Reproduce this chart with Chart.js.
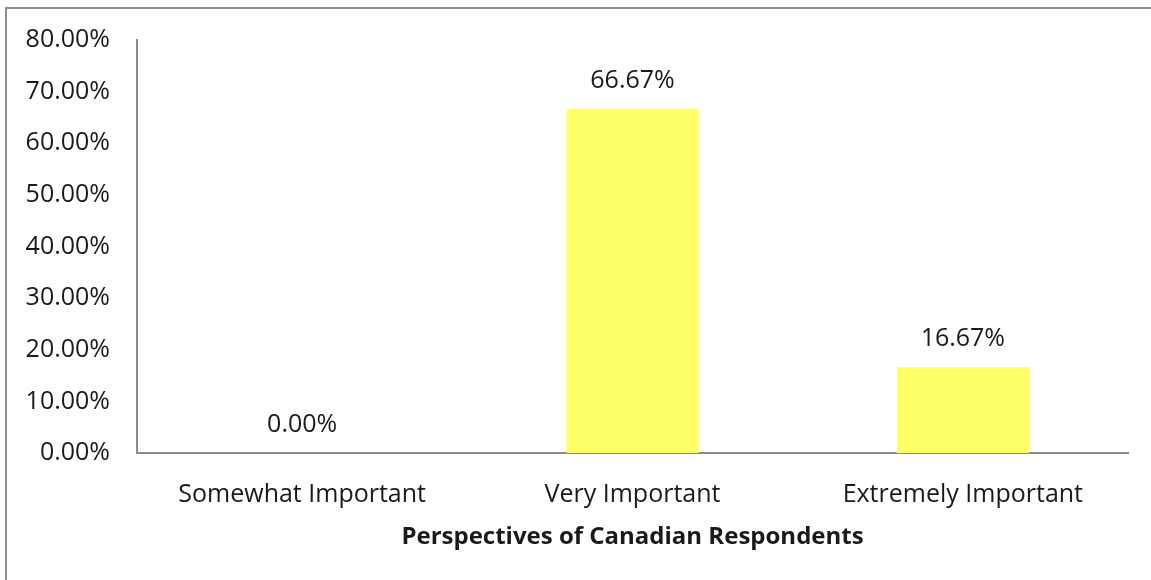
<!DOCTYPE html>
<html>
<head>
<meta charset="utf-8">
<script src="https://cdn.jsdelivr.net/npm/chart.js@4.4.0/dist/chart.umd.min.js"></script>
<style>
  html, body { margin: 0; padding: 0; background: #fff; }
  #wrap { position: relative; width: 1151px; height: 580px; overflow: hidden; }
  #frame { position: absolute; left: 5px; top: 7px; width: 1160px; height: 600px;
           border: 2px solid #8c8c8c; box-sizing: border-box; pointer-events: none; }
  canvas { position: absolute; left: 0; top: 0; }
</style>
</head>
<body>
<div id="wrap">
  <canvas id="chart" width="1151" height="580"></canvas>
  <div id="frame"></div>
</div>
<script>
// categories and values
var categories = ['Somewhat Important', 'Very Important', 'Extremely Important'];
var values = [0.00, 66.67, 16.67];
var yTicks = [0, 10, 20, 30, 40, 50, 60, 70, 80];
var axisTitle = 'Perspectives of Canadian Respondents';

var colours = {
    bar: '#ffff66',
    axis: '#8c8c8c',
    text: '#1a1a1a'
};

var fontFamily = '"Open Sans", "DejaVu Sans", sans-serif';

// little plugin to print the value above each bar
var valueLabels = {
    id: 'valueLabels',
    afterDatasetsDraw: function (chart) {
        var ctx = chart.ctx;
        var meta = chart.getDatasetMeta(0);
        ctx.save();
        ctx.font = '25px ' + fontFamily;
        ctx.fillStyle = colours.text;
        ctx.textAlign = 'center';
        ctx.textBaseline = 'middle';
        meta.data.forEach(function (bar, i) {
            ctx.fillText(values[i].toFixed(2) + '%', bar.x, bar.y - 28);
        });
        ctx.restore();
    }
};

var ctx = document.getElementById('chart').getContext('2d');
var myChart = new Chart(ctx, {
    type: 'bar',
    data: {
        labels: categories,
        datasets: [{
            data: values,
            backgroundColor: colours.bar,
            borderWidth: 0,
            barPercentage: 0.4,
            categoryPercentage: 1.0
        }]
    },
    options: {
        responsive: false,
        animation: false,
        layout: { padding: { top: 40, right: 23, bottom: 0, left: 0 } },
        plugins: {
            legend: { display: false },
            tooltip: { enabled: false }
        },
        scales: {
            x: {
                grid: { display: false },
                border: { display: true, color: colours.axis, width: 2 },
                ticks: {
                    color: colours.text,
                    font: { family: fontFamily, size: 25 },
                    padding: 19,
                    maxRotation: 0
                },
                title: {
                    display: true,
                    text: axisTitle,
                    color: colours.text,
                    font: { family: fontFamily, size: 24, weight: 'bold' },
                    padding: { top: 0, bottom: 28 }
                },
                afterFit: function (scale) { scale.height = 127; }
            },
            y: {
                min: 0,
                max: 80,
                grid: { display: false },
                border: { display: true, color: colours.axis, width: 2 },
                afterBuildTicks: function (scale) {
                    scale.ticks = yTicks.map(function (v) { return { value: v }; });
                },
                ticks: {
                    color: colours.text,
                    font: { family: fontFamily, size: 25 },
                    padding: 19,
                    callback: function (v) { return Number(v).toFixed(2) + '%'; }
                },
                afterFit: function (scale) { scale.width = 137; }
            }
        }
    },
    plugins: [valueLabels]
});
</script>
</body>
</html>
